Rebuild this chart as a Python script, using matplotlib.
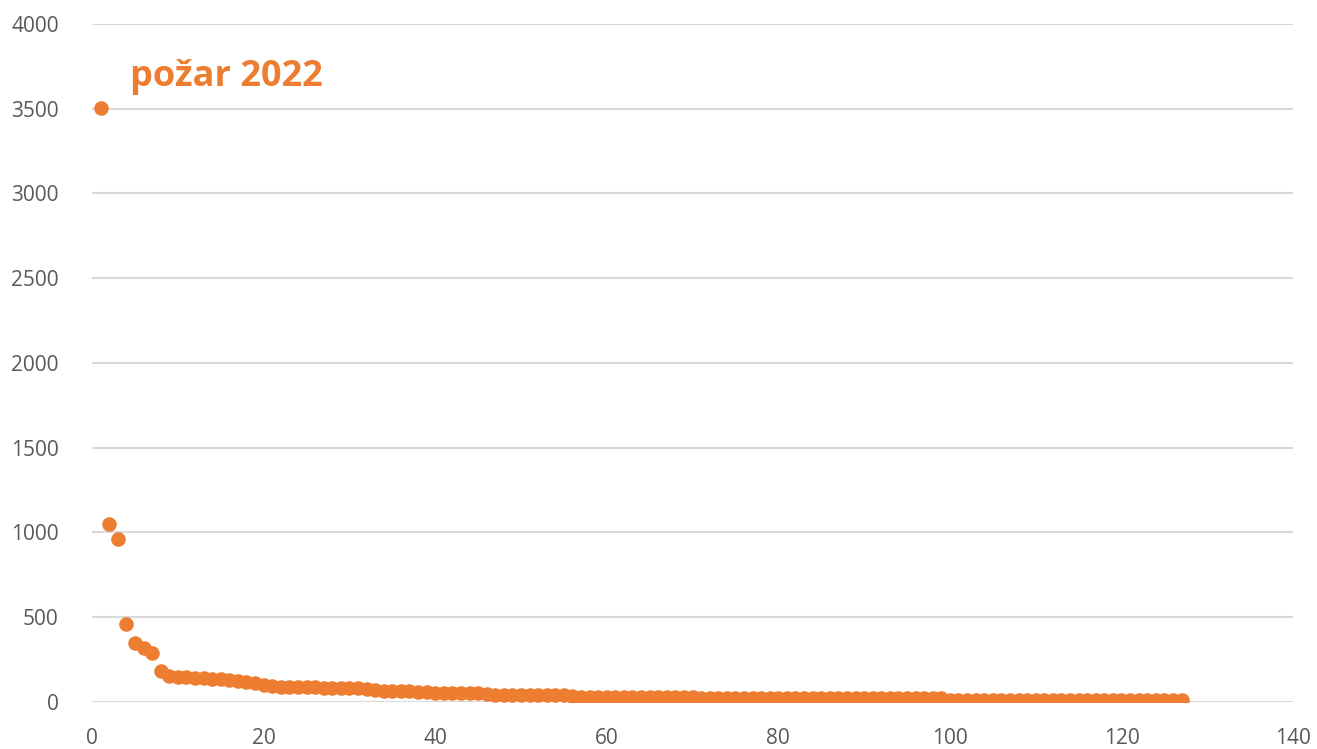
import matplotlib.pyplot as plt

plt.rcParams['font.family'] = ['Open Sans', 'DejaVu Sans']

# values, sorted descending (rank 1..127)
values = [
    3505, 1050, 960, 462, 345, 320, 290, 185, 155, 148,
    146, 144, 141, 138, 134, 129, 124, 118, 110, 102,
    94, 90, 89, 88, 87, 86, 85, 84, 83, 82,
    80, 78, 70, 66, 64, 63, 62, 60, 56, 53,
    53, 52, 52, 51, 50, 48, 44, 42, 42, 41,
    41, 41, 40, 40, 40, 33, 32, 32, 32, 31,
    31, 31, 31, 30, 30, 30, 30, 30, 30, 30,
    25, 24, 24, 24, 24, 24, 24, 24, 24, 24,
    24, 24, 24, 24, 24, 24, 24, 24, 24, 23,
    23, 23, 23, 23, 23, 23, 23, 22, 22, 13,
    13, 12, 12, 12, 12, 12, 12, 12, 12, 12,
    12, 12, 12, 12, 11, 11, 11, 11, 11, 11,
    11, 11, 11, 10, 10, 10, 10,
]
ranks = list(range(1, len(values) + 1))
label = 'požar 2022'

orange = '#ED7D31'

fig = plt.figure(figsize=(13.17, 7.49), dpi=100)
ax = fig.add_axes([0.0699, 0.0628, 0.9119, 0.9052])

ax.scatter(ranks, values, s=110, color=orange, zorder=3, linewidths=0)
ax.text(4.4, 3690, label, color=orange, fontsize=26, fontweight='bold',
        va='center', ha='left')

ax.set_xlim(0, 140)
ax.set_ylim(0, 4000)
ax.set_xticks(range(0, 141, 20))
ax.set_yticks(range(0, 4001, 500))
ax.grid(axis='y', color='#D9D9D9', linewidth=1.5, zorder=0)
ax.set_axisbelow(True)
for s in ax.spines.values():
    s.set_visible(False)
ax.tick_params(length=0, labelsize=15, labelcolor='#595959')
ax.tick_params(axis='y', pad=24)
ax.tick_params(axis='x', pad=19)

fig.savefig('out.png', dpi=100)
